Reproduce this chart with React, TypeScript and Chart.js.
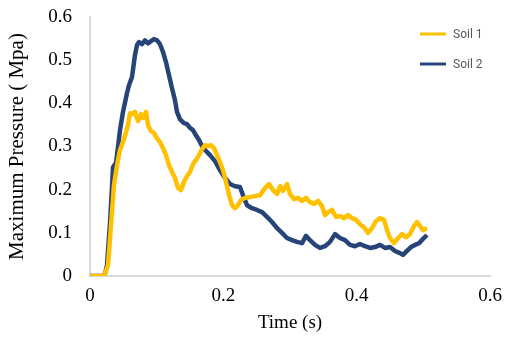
import React, { useEffect, useRef } from "react";
import { Chart, registerables } from "chart.js";

Chart.register(...registerables);

// Soil 1 (yellow)
const soil1Time = [
  0, 0.021, 0.027, 0.0315, 0.036, 0.039, 0.042, 0.045, 0.0495, 0.054, 0.057, 0.06, 0.0645, 0.0675,
  0.072, 0.0765, 0.0795, 0.084, 0.087, 0.0915, 0.096, 0.1005, 0.105, 0.1095, 0.114, 0.1185, 0.123,
  0.1275, 0.132, 0.1365, 0.141, 0.1455, 0.15, 0.1545, 0.159, 0.1635, 0.168, 0.1725, 0.177, 0.1815,
  0.186, 0.1905, 0.195, 0.1995, 0.204, 0.2085, 0.213, 0.2175, 0.222, 0.2265, 0.2325, 0.24, 0.2475,
  0.255, 0.2625, 0.2685, 0.2745, 0.2805, 0.285, 0.2895, 0.2955, 0.3, 0.306, 0.312, 0.318, 0.324,
  0.33, 0.336, 0.342, 0.348, 0.3525, 0.357, 0.363, 0.369, 0.375, 0.381, 0.387, 0.393, 0.399, 0.405,
  0.411, 0.417, 0.423, 0.429, 0.435, 0.441, 0.4455, 0.45, 0.456, 0.462, 0.468, 0.474, 0.48, 0.486,
  0.4905, 0.495, 0.4995, 0.5055,
];
const soil1Pressure = [
  0, 0, 0.025, 0.118, 0.211, 0.241, 0.269, 0.292, 0.31, 0.333, 0.35, 0.377, 0.375, 0.38,
  0.359, 0.375, 0.366, 0.38, 0.35, 0.336, 0.331, 0.319, 0.31, 0.296, 0.28, 0.257, 0.241,
  0.227, 0.204, 0.199, 0.218, 0.231, 0.241, 0.259, 0.269, 0.28, 0.294, 0.303, 0.301, 0.303,
  0.296, 0.28, 0.264, 0.245, 0.218, 0.188, 0.164, 0.157, 0.164, 0.176, 0.181, 0.183, 0.185,
  0.187, 0.204, 0.213, 0.199, 0.19, 0.208, 0.197, 0.213, 0.19, 0.178, 0.181, 0.174, 0.181,
  0.171, 0.167, 0.174, 0.162, 0.141, 0.148, 0.153, 0.137, 0.139, 0.134, 0.141, 0.134, 0.13, 0.12,
  0.113, 0.1, 0.111, 0.127, 0.134, 0.13, 0.106, 0.088, 0.076, 0.088, 0.097, 0.09, 0.097, 0.116,
  0.125, 0.116, 0.106, 0.111,
];

// Soil 2 (dark blue)
const soil2Time = [
  0, 0.0195, 0.0225, 0.0255, 0.03, 0.033, 0.0345, 0.039, 0.042, 0.045, 0.0495, 0.0555, 0.0585,
  0.063, 0.0675, 0.0705, 0.0735, 0.078, 0.0825, 0.087, 0.0915, 0.096, 0.1005, 0.105, 0.1095, 0.114,
  0.1185, 0.123, 0.1275, 0.1305, 0.135, 0.141, 0.1455, 0.15, 0.1545, 0.159, 0.1635, 0.168, 0.1725,
  0.18, 0.1875, 0.195, 0.2025, 0.21, 0.2175, 0.225, 0.2295, 0.2355, 0.243, 0.2505, 0.258, 0.2655,
  0.273, 0.2805, 0.288, 0.2955, 0.303, 0.3105, 0.318, 0.324, 0.33, 0.3375, 0.345, 0.3525, 0.36,
  0.3675, 0.375, 0.3825, 0.39, 0.3975, 0.405, 0.4125, 0.42, 0.4275, 0.435, 0.4425, 0.45, 0.4575,
  0.465, 0.4695, 0.4755, 0.4815, 0.4875, 0.4935, 0.4995, 0.5055,
];
const soil2Pressure = [
  0, 0, 0.005, 0.025, 0.123, 0.206, 0.252, 0.262, 0.299, 0.338, 0.38, 0.424, 0.442,
  0.461, 0.512, 0.535, 0.542, 0.537, 0.546, 0.539, 0.544, 0.549, 0.546, 0.537, 0.519, 0.495,
  0.465, 0.435, 0.407, 0.38, 0.363, 0.354, 0.352, 0.343, 0.338, 0.326, 0.315, 0.301, 0.292,
  0.28, 0.266, 0.245, 0.227, 0.213, 0.208, 0.206, 0.187, 0.164, 0.157, 0.153, 0.148, 0.137,
  0.125, 0.111, 0.1, 0.088, 0.083, 0.079, 0.076, 0.093, 0.083, 0.072, 0.065, 0.069, 0.079,
  0.097, 0.088, 0.083, 0.072, 0.069, 0.074, 0.069, 0.065, 0.067, 0.072, 0.065, 0.067, 0.058,
  0.053, 0.049, 0.058, 0.067, 0.072, 0.076, 0.086, 0.095,
];

const seriesLabels = ["Soil 1", "Soil 2"];
const xTitle = "Time (s)";
const yTitle = "Maximum Pressure ( Mpa)";

const serif = "'Liberation Serif', 'Times New Roman', serif";

const legendPlugin = {
  id: "insideLegend",
  afterDraw(chart: any) {
    const { ctx, chartArea } = chart;
    chart.data.datasets.forEach((ds: any, i: number) => {
      const y = chartArea.top + 17 + i * 30;
      const x0 = chartArea.right - 70;
      ctx.save();
      ctx.strokeStyle = ds.borderColor;
      ctx.lineWidth = 3;
      ctx.beginPath();
      ctx.moveTo(x0, y);
      ctx.lineTo(x0 + 26, y);
      ctx.stroke();
      ctx.fillStyle = "#595959";
      ctx.font = "12px 'Liberation Sans Narrow', 'Roboto', sans-serif";
      ctx.textBaseline = "middle";
      ctx.textAlign = "left";
      ctx.fillText(ds.label, x0 + 33, y + 1);
      ctx.restore();
    });
  },
};

export default function App() {
  const ref = useRef<HTMLCanvasElement>(null);
  useEffect(() => {
    if (!ref.current) return;
    const chart = new Chart(ref.current, {
      type: "line",
      data: {
        datasets: [
          {
            label: seriesLabels[0],
            data: soil1Time.map((t, i) => ({ x: t, y: soil1Pressure[i] })),
            borderColor: "#FFC000",
            backgroundColor: "#FFC000",
            borderWidth: 4.5,
            pointRadius: 0,
            tension: 0,
            borderJoinStyle: "round",
          },
          {
            label: seriesLabels[1],
            data: soil2Time.map((t, i) => ({ x: t, y: soil2Pressure[i] })),
            borderColor: "#264478",
            backgroundColor: "#264478",
            borderWidth: 4.5,
            pointRadius: 0,
            tension: 0,
            borderJoinStyle: "round",
          },
        ],
      },
      options: {
        responsive: false,
        animation: false,
        layout: { padding: 0 },
        plugins: {
          legend: { display: false },
          tooltip: { enabled: false },
        },
        scales: {
          x: {
            type: "linear",
            min: 0,
            max: 0.6,
            grid: { display: false, drawTicks: false },
            border: { display: true, color: "#d9d9d9", width: 2 },
            ticks: {
              stepSize: 0.2,
              padding: 9,
              color: "#000",
              font: { family: serif, size: 19 },
            },
            title: {
              display: true,
              text: xTitle,
              color: "#000",
              font: { family: serif, size: 19, lineHeight: 1.0 },
              padding: { top: 2, bottom: 9 },
            },
            afterFit(scale: any) {
              scale.height = 66;
              scale.paddingLeft = 0;
              scale.paddingRight = 16;
            },
          },
          y: {
            type: "linear",
            min: 0,
            max: 0.6,
            grid: { display: false, drawTicks: false },
            border: { display: true, color: "#d9d9d9", width: 2 },
            ticks: {
              stepSize: 0.1,
              padding: 18,
              color: "#000",
              font: { family: serif, size: 19 },
            },
            title: {
              display: true,
              text: yTitle,
              color: "#000",
              font: { family: serif, size: 21 },
              padding: { top: 5, bottom: 4 },
            },
            afterFit(scale: any) {
              scale.width = 90;
              scale.paddingTop = 17;
              scale.paddingBottom = 0;
            },
          },
        },
      },
      plugins: [legendPlugin],
    });
    return () => chart.destroy();
  }, []);
  return (
    <div style={{ position: "fixed", left: 0, top: 0, width: 506, height: 342, background: "#fff" }}>
      <canvas ref={ref} width={506} height={342} />
    </div>
  );
}
